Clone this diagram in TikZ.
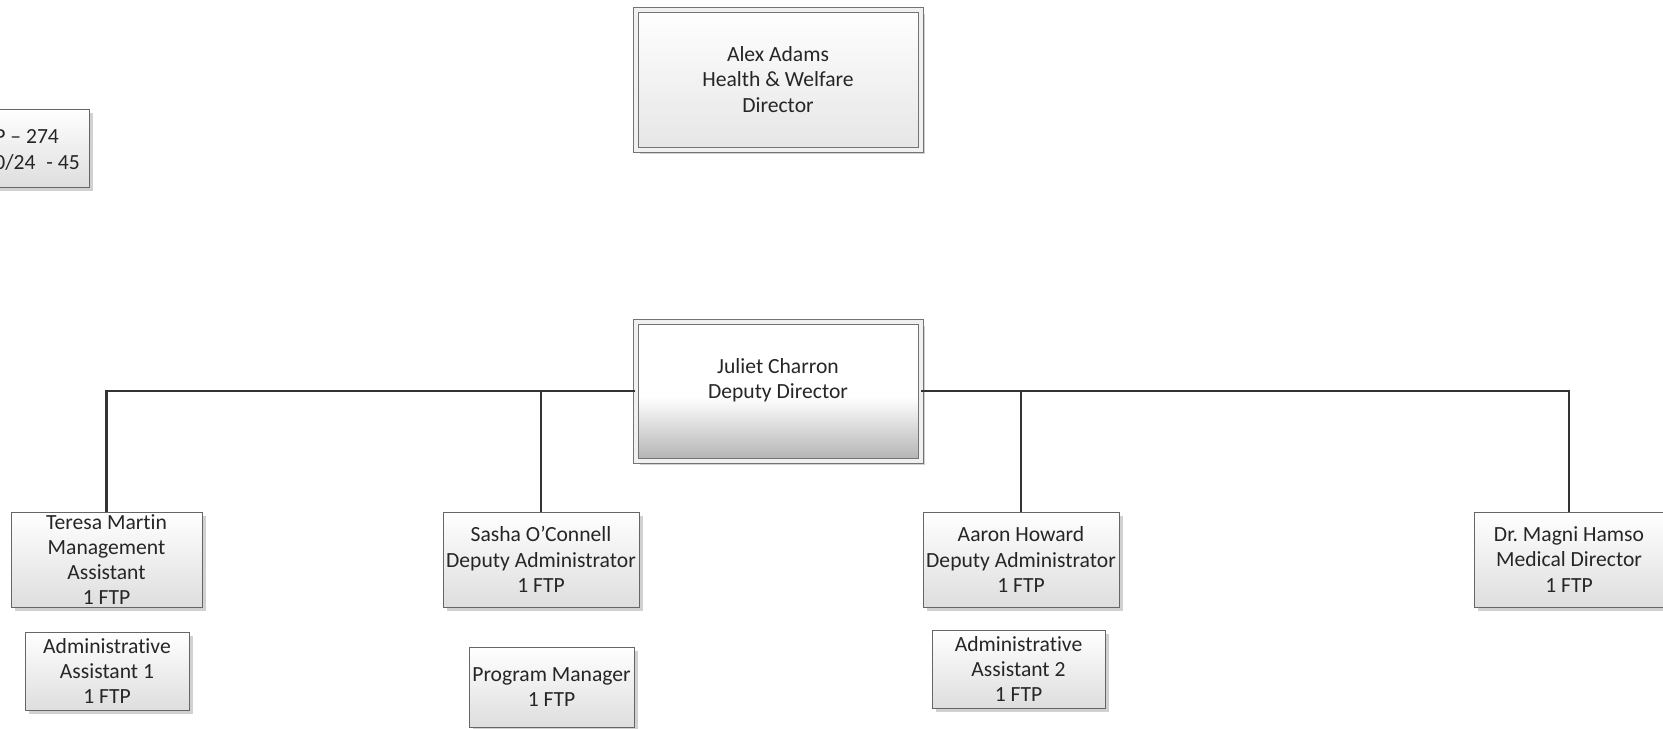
\documentclass[tikz,border=0pt]{standalone}
\usepackage{fontspec}
\setmainfont{Carlito}[Ligatures=NoCommon]
\usetikzlibrary{shadows}
\frenchspacing
% deputy director fill: white upper half, greying towards the bottom
\pgfdeclareverticalshading{deputyshade}{100bp}{color(0bp)=(black!30); color(25bp)=(black!30); color(48bp)=(white); color(100bp)=(white)}
\begin{document}
\begin{tikzpicture}[x=0.5pt,y=-0.5pt,
  sz/.style 2 args={minimum width=#1*0.5pt, minimum height=#2*0.5pt},
  txt/.style={text=black!85, font=\fontsize{10.8}{12.6}\selectfont},
  box/.style={draw=black!60, line width=0.5pt, top color=white, bottom color=black!13,
    inner sep=0pt, align=center, txt,
    drop shadow={shadow xshift=2pt, shadow yshift=-2pt, fill=black!18, opacity=1}},
  headbox/.style={box, draw=black!55, double=black!6, double distance=2pt},
  wire/.style={draw=black!80, line width=1.3pt}]
\clip (0,0) rectangle (1663,728);
\fill[white] (0,0) rectangle (1663,728);

% partly visible box at the left edge
\node[box, sz={150}{78}] (ftpbox) at (14,148) {};
\node[anchor=west, align=left, inner sep=0pt, txt] (ftptext) at (-6,150) {P – 274\\0/24\enspace- 45};

% directors
\node[headbox, sz={285}{140}, bottom color=black!10] (alex) at (778,79.5)
  {Alex Adams\\Health \& Welfare\\Director};
\node[headbox, sz={285}{139}, shading=deputyshade] (juliet) at (778,391)
  {Juliet Charron\\Deputy Director\\~};

% reports
\node[box, sz={191}{95}] (teresa) at (106.5,559.5) {Teresa Martin\\Management\\Assistant\\1 FTP};
\node[box, sz={196}{95}] (sasha) at (541,559.5) {Sasha O’Connell\\Deputy Administrator\\1 FTP};
\node[box, sz={196}{95}] (aaron) at (1021,559.5) {Aaron Howard\\Deputy Administrator\\1 FTP};
\node[box, sz={190}{95}] (magni) at (1569,559.5) {Dr. Magni Hamso\\Medical Director\\1 FTP};

% staff
\node[box, sz={164}{78}] (admin1) at (107,671) {Administrative\\Assistant 1\\1 FTP};
\node[box, sz={165}{80}] (progmgr) at (551.5,687) {Program Manager\\1 FTP};
\node[box, sz={173}{78}] (admin2) at (1018.5,669) {Administrative\\Assistant 2\\1 FTP};

% reporting lines
\draw[wire] (juliet.west) -| (teresa.north);
\draw[wire] (juliet.west) -| (sasha.north);
\draw[wire] (juliet.east) -| (aaron.north);
\draw[wire] (juliet.east) -| (magni.north);
\end{tikzpicture}
\end{document}
